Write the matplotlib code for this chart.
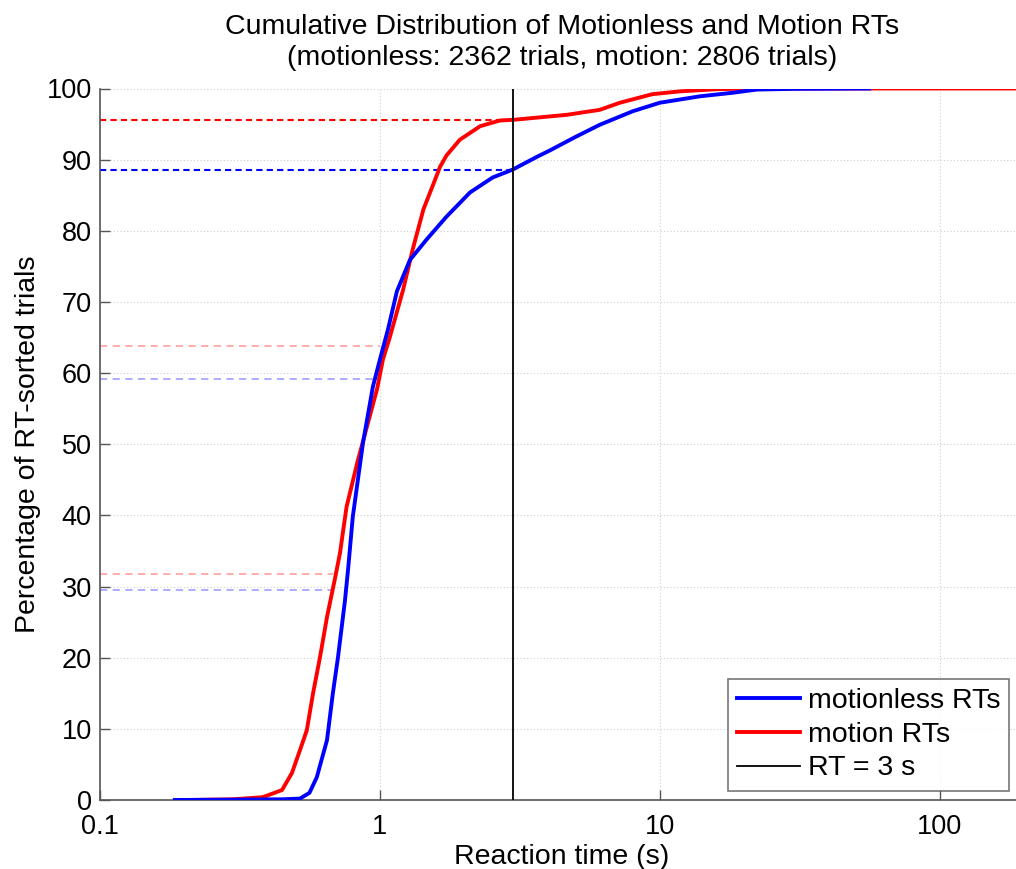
import matplotlib
matplotlib.use("Agg")
import matplotlib.pyplot as plt

plt.rcParams['font.family'] = ['Liberation Sans', 'DejaVu Sans']

# Motionless RTs (blue): reaction time (s), cumulative percentage
motionless_rt = [0.185, 0.30, 0.45, 0.518, 0.56, 0.595, 0.647, 0.679, 0.708, 0.75, 0.77,
                 0.80, 0.87, 0.944, 1.0, 1.068, 1.15, 1.28, 1.47, 1.73, 2.1, 2.53,
                 2.98, 3.64, 4.05, 5.0, 6.1, 8.0, 10.0, 13.9, 18.2, 22.2, 30.0, 56.0]
motionless_pct = [0.0, 0.05, 0.1, 0.2, 1.0, 3.2, 8.4, 15.0, 20.0, 28.0, 32.5,
                  39.8, 50.2, 58.1, 61.9, 66.1, 71.5, 75.9, 78.8, 82.0, 85.4, 87.5,
                  88.6, 90.4, 91.3, 93.2, 94.9, 96.8, 98.0, 98.9, 99.4, 99.85, 99.95, 100.0]

# Motion RTs (red)
motion_rt = [0.21, 0.30, 0.382, 0.447, 0.485, 0.518, 0.548, 0.577, 0.611, 0.647, 0.69,
             0.72, 0.76, 0.83, 0.899, 0.976, 1.025, 1.086, 1.21, 1.31, 1.43, 1.55,
             1.64, 1.73, 1.93, 2.28, 2.68, 3.0, 4.65, 6.1, 7.2, 9.4, 11.8, 16.0, 21.0, 200.0]
motion_pct = [0.0, 0.1, 0.4, 1.4, 3.8, 7.0, 9.8, 15.0, 20.1, 25.7, 31.0,
              34.7, 41.2, 47.4, 52.5, 57.7, 61.9, 65.1, 71.7, 77.4, 83.0, 86.5,
              89.0, 90.6, 92.8, 94.7, 95.5, 95.6, 96.3, 97.0, 98.0, 99.2, 99.6, 99.9, 100.0, 100.0]

# reference levels: (percentage, x end)
rt_cut = 3.0
motionless_at_cut = 88.6
motion_at_cut = 95.6
faint_motion = [(63.8, 1.0), (31.8, 0.68)]
faint_motionless = [(59.2, 1.0), (29.5, 0.68)]

fig = plt.figure(figsize=(10.16, 8.69), dpi=100)
ax = fig.add_axes([100/1016, 1-800/869, (1024-100)/1016, (800-88.5)/869])

ax.set_xscale('log')
ax.set_xlim(0.1, 200)
ax.set_ylim(0, 100)

# grid
for v in range(10, 101, 10):
    ax.axhline(v, color='#cfcfcf', lw=0.8, ls=(0, (1, 2)), zorder=0)
for v in [1, 10, 100]:
    ax.axvline(v, color='#cfcfcf', lw=0.8, ls=(0, (1, 2)), zorder=0)

# faint dashed reference levels
for y, xe in faint_motion:
    ax.plot([0.1, xe], [y, y], color='red', alpha=0.35, lw=1.3, ls=(0, (4, 3)), zorder=1)
for y, xe in faint_motionless:
    ax.plot([0.1, xe], [y, y], color='blue', alpha=0.35, lw=1.3, ls=(0, (4, 3)), zorder=1)

ax.plot([0.1, rt_cut], [motion_at_cut]*2, color='red', lw=1.5, ls=(0, (3, 2)), zorder=2)
ax.plot([0.1, rt_cut], [motionless_at_cut]*2, color='blue', lw=1.5, ls=(0, (3, 2)), zorder=2)

h_red, = ax.plot(motion_rt, motion_pct, color='red', lw=2.8, zorder=3,
                 solid_joinstyle='round', label='motion RTs')
h_blue, = ax.plot(motionless_rt, motionless_pct, color='blue', lw=2.8, zorder=4,
                  solid_joinstyle='round', label='motionless RTs')
h_blk = ax.axvline(rt_cut, color='black', lw=1.3, zorder=5, label='RT = 3 s')

ax.set_xticks([0.1, 1, 10, 100])
ax.set_xticklabels(['0.1', '1', '10', '100'])
ax.minorticks_off()
ax.set_yticks(range(0, 101, 10))
ax.tick_params(direction='in', length=7, width=1, color='#555555',
               labelsize=19.5, pad=6)
ax.tick_params(axis='x', pad=10)
for s in ['top', 'right']:
    ax.spines[s].set_visible(False)
for s in ['left', 'bottom']:
    ax.spines[s].set_color('#555555')
    ax.spines[s].set_linewidth(1.2)

ax.set_xlabel('Reaction time (s)', fontsize=20.5, labelpad=3)
ax.set_ylabel('Percentage of RT-sorted trials', fontsize=20.5, labelpad=4)
ax.set_title('Cumulative Distribution of Motionless and Motion RTs\n'
             '(motionless: 2362 trials, motion: 2806 trials)', fontsize=20.5,
             linespacing=1.25, pad=17)

leg = fig.legend(handles=[h_blue, h_red, h_blk], loc='upper left',
                 bbox_to_anchor=(728/1016, 1-679/869), borderaxespad=0,
                 fontsize=20.5, frameon=True, fancybox=False, edgecolor='#555555',
                 handlelength=2.2, handletextpad=0.28, labelspacing=0.27,
                 borderpad=0.32)
leg.get_frame().set_linewidth(1.2)

fig.savefig('out.png', dpi=100)
